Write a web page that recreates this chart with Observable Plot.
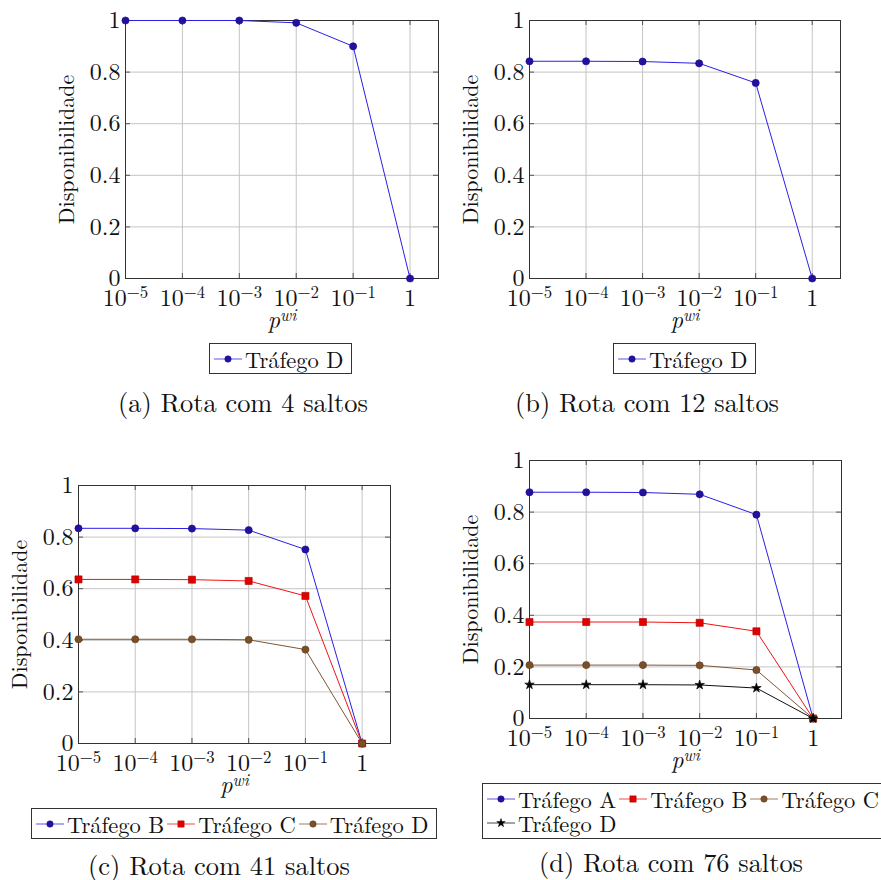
<!DOCTYPE html>
<html>
<head>
<meta charset="utf-8">
<script src="https://cdn.jsdelivr.net/npm/d3@7"></script>
<script src="https://cdn.jsdelivr.net/npm/@observablehq/plot@0.6"></script>
<style>
  html, body { margin: 0; padding: 0; background: #fff; }
  #root { position: relative; width: 881px; height: 880px; overflow: hidden; background: #fff; color: #111; }
  .panel { position: absolute; }
  .legend { position: absolute; box-sizing: border-box; border: 1px solid #333; background: #fff;
            font-size: 22.5px; line-height: 24px; padding: 3px 4px; }
  .legend .row { display: flex; align-items: center; white-space: nowrap; height: 24px; }
  .legend .item { display: flex; align-items: center; margin-right: 3px; }
  .legend svg { margin-right: 3px; overflow: visible; }
  .caption { position: absolute; line-height: 22px; white-space: nowrap; transform: translateX(-50%); }
</style>
</head>
<body>
<div id="root"></div>
<script>
// ---- data ----
const xTicks = [1e-5, 1e-4, 1e-3, 1e-2, 1e-1, 1];
const xLabels = ["10^−5", "10^−4", "10^−3", "10^−2", "10^−1", "1"];
const yTicks = [0, 0.2, 0.4, 0.6, 0.8, 1];
const yLabels = ["0", "0.2", "0.4", "0.6", "0.8", "1"];

const a_D = [1, 1, 1, 0.991, 0.900, 0];
const b_D = [0.842, 0.842, 0.841, 0.834, 0.758, 0];
const c_B = [0.834, 0.834, 0.833, 0.827, 0.752, 0];
const c_C = [0.636, 0.636, 0.635, 0.630, 0.572, 0];
const c_D = [0.404, 0.404, 0.404, 0.402, 0.364, 0];
const d_A = [0.877, 0.877, 0.876, 0.869, 0.790, 0];
const d_B = [0.374, 0.374, 0.374, 0.371, 0.338, 0];
const d_C = [0.207, 0.207, 0.207, 0.206, 0.188, 0];
const d_D = [0.131, 0.131, 0.131, 0.130, 0.118, 0];

const seriesNames = ["Tráfego A", "Tráfego B", "Tráfego C", "Tráfego D"];
const captions = ["(a) Rota com 4 saltos", "(b) Rota com 12 saltos", "(c) Rota com 41 saltos", "(d) Rota com 76 saltos"];
const yTitle = "Disponibilidade";
const xTitle = "p^wi";

// ---- styles ----
const FONT = "'Latin Modern Roman', 'Liberation Serif', serif";
const FS = 22;
const TFS = 24;
const STY = {
  blue:  {line: "#2a1ee6", fill: "#22109e", stroke: "#1c0c90", symbol: "circle", r: 3.6},
  red:   {line: "#f01414", fill: "#e00000", stroke: "#a80000", symbol: "square", r: 4.0},
  brown: {line: "#7e5634", fill: "#7a5028", stroke: "#5a3a1c", symbol: "circle", r: 3.6},
  black: {line: "#111111", fill: "#000000", stroke: "#000000", symbol: "star", r: 3.0}
};

const panels = [
  {left: 0,   top: 0,   mL: 125, mR: 3,  series: [{name: seriesNames[3], values: a_D, s: STY.blue}],
   legend: {left: 209, top: 343, width: 143, height: 31, rows: [[0]]}, caption: {x: 243, top: 390, w: 250}},
  {left: 440, top: 0,   mL: 89,  mR: 41, series: [{name: seriesNames[3], values: b_D, s: STY.blue}],
   legend: {left: 613, top: 343, width: 143, height: 31, rows: [[0]]}, caption: {x: 647, top: 390, w: 264}},
  {left: 0,   top: 465, mL: 78,  mR: 51, series: [
      {name: seriesNames[1], values: c_B, s: STY.blue},
      {name: seriesNames[2], values: c_C, s: STY.red},
      {name: seriesNames[3], values: c_D, s: STY.brown}],
   legend: {left: 31, top: 808, width: 406, height: 31, rows: [[0, 1, 2]]}, caption: {x: 219, top: 853, w: 262}},
  {left: 440, top: 440, mL: 89,  mR: 40, series: [
      {name: seriesNames[0], values: d_A, s: STY.blue},
      {name: seriesNames[1], values: d_B, s: STY.red},
      {name: seriesNames[2], values: d_C, s: STY.brown},
      {name: seriesNames[3], values: d_D, s: STY.black}],
   legend: {left: 482, top: 783, width: 420, height: 56, rows: [[0, 1, 2], [3]]}, caption: {x: 671, top: 850, w: 264}}
];

const W = 441, H = 335, mT = 20, mB = 57;
const root = document.getElementById("root");
root.style.fontFamily = FONT;

function xFmt(d) {
  const i = xTicks.findIndex(t => Math.abs(Math.log10(t) - Math.log10(d)) < 1e-6);
  return i >= 0 ? xLabels[i] : "";
}
function yFmt(d) {
  const i = yTicks.findIndex(t => Math.abs(t - d) < 1e-9);
  return i >= 0 ? yLabels[i] : "";
}

function superscriptify(svg) {
  svg.querySelectorAll("text").forEach(t => {
    t.style.fontFamily = FONT;
    const s = t.textContent;
    if (!s.includes("^")) return;
    const [base, sup] = s.split("^");
    t.textContent = "";
    const ns = "http://www.w3.org/2000/svg";
    const t1 = document.createElementNS(ns, "tspan");
    t1.textContent = base;
    const t2 = document.createElementNS(ns, "tspan");
    t2.textContent = sup;
    t2.setAttribute("dy", "-0.45em");
    t2.setAttribute("font-size", "0.7em");
    t.appendChild(t1); t.appendChild(t2);
  });
}

const canvas = document.createElement("canvas");
const ctx = canvas.getContext("2d");
function fitSize(text, target) {
  ctx.font = `100px ${FONT}`;
  const w = ctx.measureText(text).width;
  return Math.max(18, Math.min(30, 100 * target / w));
}

panels.forEach((p, pi) => {
  const fw = W - p.mL - p.mR, fh = H - mT - mB;
  const rows = [];
  p.series.forEach(sr => sr.values.forEach((v, i) => rows.push({name: sr.name, x: xTicks[i], y: v})));
  const marks = [
    Plot.gridX(xTicks, {stroke: "#c4c4c4", strokeOpacity: 1, strokeWidth: 1}),
    Plot.gridY(yTicks, {stroke: "#c4c4c4", strokeOpacity: 1, strokeWidth: 1}),
    Plot.ruleY(yTicks, {stroke: "#555", insetRight: fw - 5}),
    Plot.ruleY(yTicks, {stroke: "#555", insetLeft: fw - 5}),
    Plot.ruleX(xTicks, {stroke: "#555", insetTop: fh - 5}),
    Plot.ruleX(xTicks, {stroke: "#555", insetBottom: fh - 5}),
    Plot.axisX(xTicks, {tickSize: 0, tickPadding: 10, tickFormat: xFmt, label: null, fill: "#111", fontSize: TFS}),
    Plot.axisY(yTicks, {tickSize: 0, tickPadding: 5, tickFormat: yFmt, label: null, fill: "#111", fontSize: TFS}),
    Plot.frame({stroke: "#333", strokeWidth: 1}),
    Plot.text([xTitle], {frameAnchor: "bottom", lineAnchor: "middle", dy: 42, fontStyle: "italic", fill: "#111", fontSize: TFS}),
    Plot.text([yTitle], {frameAnchor: "left", textAnchor: "middle", lineAnchor: "middle", rotate: -90, dx: -59, fill: "#111"})
  ];
  p.series.forEach(sr => {
    const d = rows.filter(r => r.name === sr.name);
    marks.push(Plot.line(d, {x: "x", y: "y", stroke: sr.s.line, strokeWidth: 1}));
  });
  p.series.forEach(sr => {
    const d = rows.filter(r => r.name === sr.name);
    marks.push(Plot.dot(d, {x: "x", y: "y", symbol: () => sr.s.symbol, r: sr.s.r,
      fill: sr.s.fill, stroke: sr.s.stroke, strokeWidth: 0.6}));
  });
  const svg = Plot.plot({
    width: W, height: H,
    marginLeft: p.mL, marginRight: p.mR, marginTop: mT, marginBottom: mB,
    style: {fontFamily: FONT, fontSize: FS + "px", background: "transparent", overflow: "visible"},
    x: {type: "log", domain: [1e-5, Math.pow(10, 0.5)]},
    y: {domain: [0, 1]},
    symbol: {type: "identity"},
    marks
  });
  svg.setAttribute("font-family", FONT);
  svg.style.fontFamily = FONT;
  superscriptify(svg);
  const wrap = document.createElement("div");
  wrap.className = "panel";
  wrap.style.left = p.left + "px";
  wrap.style.top = p.top + "px";
  wrap.appendChild(svg);
  root.appendChild(wrap);

  // legend
  const lg = d3.select(root).append("div").attr("class", "legend")
    .style("font-family", FONT)
    .style("left", p.legend.left + "px").style("top", p.legend.top + "px")
    .style("width", p.legend.width + "px").style("height", p.legend.height + "px");
  p.legend.rows.forEach(r => {
    const row = lg.append("div").attr("class", "row");
    r.forEach(idx => {
      const sr = p.series[idx];
      const it = row.append("div").attr("class", "item");
      const sv = it.append("svg").attr("width", 28).attr("height", 14);
      sv.append("line").attr("x1", 0).attr("x2", 28).attr("y1", 7).attr("y2", 7)
        .attr("stroke", sr.s.line).attr("stroke-opacity", 0.55).attr("stroke-width", 1.4);
      const sym = {circle: d3.symbolCircle, square: d3.symbolSquare, star: d3.symbolStar}[sr.s.symbol];
      sv.append("path").attr("transform", "translate(14,7)")
        .attr("d", d3.symbol(sym, Math.PI * sr.s.r * sr.s.r * 0.8)())
        .attr("fill", sr.s.fill).attr("stroke", sr.s.stroke).attr("stroke-width", 0.5);
      it.append("span").style("font-family", FONT).text(sr.name);
    });
  });

  // caption
  d3.select(root).append("div").attr("class", "caption")
    .style("font-family", FONT)
    .style("font-size", fitSize(captions[pi], p.caption.w) + "px")
    .style("left", p.caption.x + "px").style("top", p.caption.top + "px")
    .text(captions[pi]);
});
</script>
</body>
</html>
